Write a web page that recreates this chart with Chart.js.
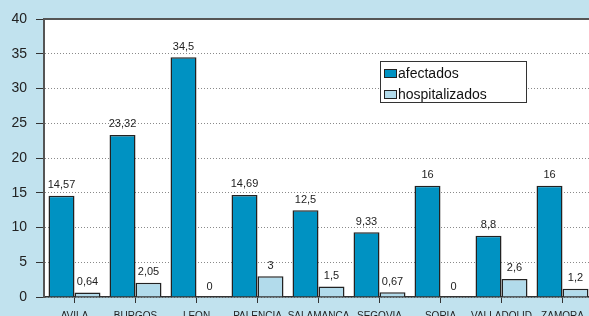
<!DOCTYPE html>
<html>
<head>
<meta charset="utf-8">
<script src="https://cdn.jsdelivr.net/npm/chart.js@4.4.0/dist/chart.umd.min.js"></script>
<style>
  html, body { margin: 0; padding: 0; overflow: hidden; background: #c1e2ee; }
  #wrap { position: absolute; left: 0; top: 0; width: 600px; height: 330px; }
</style>
</head>
<body>
<div id="wrap"><canvas id="myChart" width="600" height="330"></canvas></div>
<script>
// provinces on the x axis
let provincias = ['AVILA', 'BURGOS', 'LEON', 'PALENCIA', 'SALAMANCA', 'SEGOVIA', 'SORIA', 'VALLADOLID', 'ZAMORA'];
// values
let afectados = [14.57, 23.32, 34.5, 14.69, 12.5, 9.33, 16, 8.8, 16];
let hospitalizados = [0.64, 2.05, 0, 3, 1.5, 0.67, 0, 2.6, 1.2];
let yTicks = [0, 5, 10, 15, 20, 25, 30, 35, 40];

let fontFam = '"Liberation Sans", Arial, sans-serif';

// white plot area and dark top line
let plotBg = {
  id: 'plotBg',
  beforeDraw: function(chart) {
    let c = chart.ctx, a = chart.chartArea;
    c.save();
    c.fillStyle = '#ffffff';
    c.fillRect(a.left, a.top, a.right - a.left, a.bottom - a.top);
    c.restore();
  },
  afterDraw: function(chart) {
    let c = chart.ctx, a = chart.chartArea;
    c.save();
    c.strokeStyle = '#555555';
    c.lineWidth = 2;
    c.beginPath();
    c.moveTo(a.left, a.top);
    c.lineTo(a.right, a.top);
    c.stroke();
    c.restore();
  }
};

// numbers above each bar, with comma decimals
let barLabels = {
  id: 'barLabels',
  afterDatasetsDraw: function(chart) {
    let c = chart.ctx;
    c.save();
    c.font = '11px ' + fontFam;
    c.fillStyle = '#222222';
    c.textAlign = 'center';
    c.textBaseline = 'bottom';
    chart.data.datasets.forEach(function(ds, di) {
      chart.getDatasetMeta(di).data.forEach(function(bar, i) {
        let txt = String(ds.data[i]).replace('.', ',');
        c.fillText(txt, bar.x, bar.y - 5);
      });
    });
    c.restore();
  }
};

// boxed legend inside the plot
let boxLegend = {
  id: 'boxLegend',
  afterDraw: function(chart) {
    let c = chart.ctx;
    c.save();
    c.fillStyle = '#ffffff';
    c.fillRect(380, 61, 146, 41);
    c.strokeStyle = '#333333';
    c.lineWidth = 1;
    c.strokeRect(380.5, 61.5, 146, 41);
    c.font = '14px ' + fontFam;
    c.textBaseline = 'middle';
    chart.data.datasets.forEach(function(ds, di) {
      let y = 73 + di * 21;
      c.fillStyle = ds.backgroundColor;
      c.fillRect(384, y - 4, 12, 9);
      c.strokeStyle = '#222222';
      c.strokeRect(384.5, y - 3.5, 12, 8);
      c.fillStyle = '#111111';
      c.fillText(ds.label, 398, y + 1);
    });
    c.restore();
  }
};

let options = {
  type: 'bar',
  data: {
    labels: provincias,
    datasets: [{
      label: 'afectados',
      data: afectados,
      backgroundColor: '#0092c2',
      borderColor: '#222222',
      borderWidth: 1.5,
      categoryPercentage: 0.852,
      barPercentage: 1
    }, {
      label: 'hospitalizados',
      data: hospitalizados,
      backgroundColor: '#b2dbeb',
      borderColor: '#222222',
      borderWidth: 1.5,
      categoryPercentage: 0.852,
      barPercentage: 1
    }]
  },
  options: {
    responsive: false,
    animation: false,
    layout: { padding: { left: 0, right: 7, top: 19, bottom: 0 } },
    plugins: { legend: { display: false }, tooltip: { enabled: false } },
    scales: {
      x: {
        grid: { display: true, drawOnChartArea: false, offset: false, tickLength: 6, tickColor: '#333333' },
        border: { color: '#333333', width: 1.5 },
        ticks: { color: '#222222', font: { size: 10, family: fontFam }, padding: 7, maxRotation: 0, autoSkip: false },
        afterFit: function(s) { s.height = 33; }
      },
      y: {
        min: 0,
        max: 40,
        afterBuildTicks: function(s) { s.ticks = yTicks.map(function(v) { return { value: v }; }); },
        grid: { color: '#8a8a8a', lineWidth: 1, tickLength: 8, tickColor: '#333333', tickBorderDash: [] },
        border: { color: '#555555', width: 2, dash: [1, 2] },
        ticks: { color: '#222222', font: { size: 14, family: fontFam }, padding: 9 },
        afterFit: function(s) { s.width = 44; }
      }
    }
  },
  plugins: [plotBg, barLabels, boxLegend]
};

let mChart = new Chart(document.getElementById('myChart'), options);
</script>
</body>
</html>
